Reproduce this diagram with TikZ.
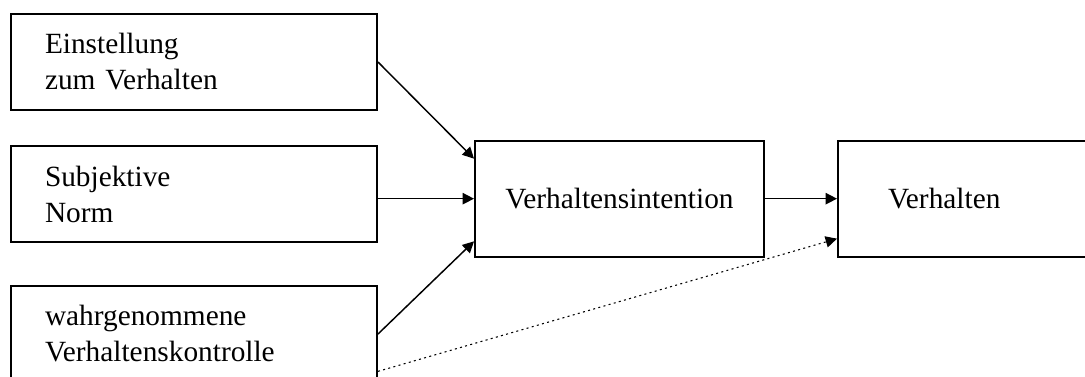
\documentclass[tikz,border=0pt]{standalone}
\usepackage{fontspec}
\setmainfont{Liberation Serif}
\usetikzlibrary{arrows.meta, positioning, calc}

\begin{document}
\begin{tikzpicture}[
    x=0.75pt, y=-0.75pt,
    factor/.style={rectangle, draw=black, line width=1.5pt, minimum height=72pt, text width=223.5pt, inner xsep=25.5pt, align=left, font=\fontsize{22}{27}\selectfont},
    core/.style={rectangle, draw=black, line width=1.5pt, minimum width=216.75pt, minimum height=87pt, align=center, font=\fontsize{22}{27}\selectfont},
    arrow/.style={-{Triangle[length=8.5pt, width=8.5pt]}, line width=1.1pt},
    weak/.style={-{Triangle[length=8.5pt, width=8.5pt]}, line width=0.8pt, dash pattern=on 1.5pt off 2.5pt}
]
    % Frame
    \useasboundingbox (0,0) rectangle (1085,376);
    \clip (0,0) rectangle (1085,376);

    % Nodes
    \node[factor] (einst) at (194,62) {Einstellung\\zum Verhalten};
    \node[factor, below=25.5pt of einst] (norm) {Subjektive\\Norm};
    \node[factor, below=31.5pt of norm] (kontr) {wahrgenommene\\Verhaltenskontrolle};
    \node[core, right=72pt of norm, yshift=-3.5pt] (intent) {Verhaltensintention};
    \node[core, right=54pt of intent, text width=200pt, inner xsep=37.5pt, align=left] (verh) {Verhalten};

    % Connectors
    \draw[arrow] (einst.east) -- ([yshift=30pt]intent.west);
    \draw[arrow] (norm.east |- intent.west) -- (intent.west);
    \draw[arrow] (kontr.east) -- ([yshift=-32pt]intent.west);
    \draw[arrow] (intent.east) -- (verh.west);
    \draw[weak] ([yshift=-28pt]kontr.east) -- ([yshift=-30pt]verh.west);

\end{tikzpicture}
\end{document}
